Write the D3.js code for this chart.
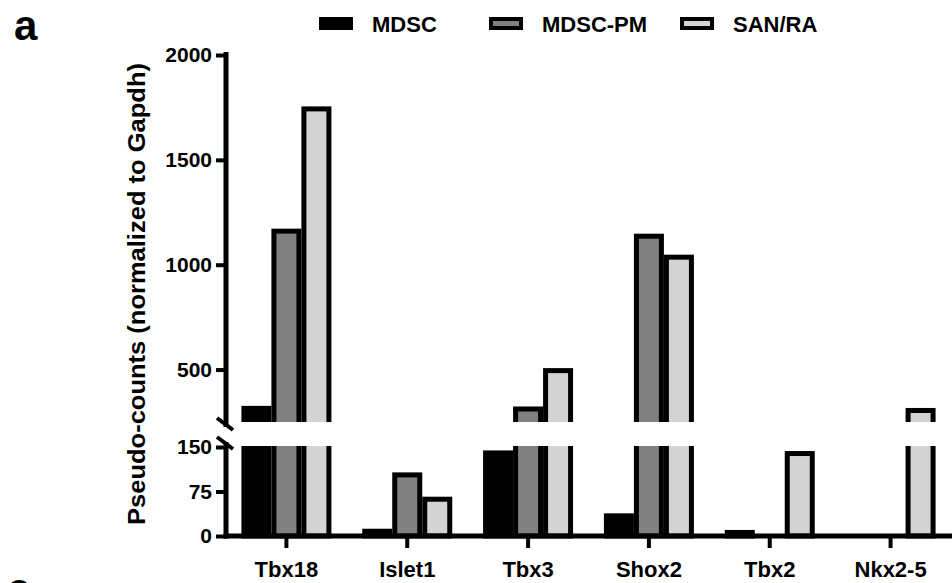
<!DOCTYPE html>
<html>
<head>
<meta charset="utf-8">
<script src="https://cdn.jsdelivr.net/npm/d3@7"></script>
<style>
    body { margin: 0; background: #fff; }
    #chart text { font-family: Arial, "Liberation Sans", sans-serif; font-weight: bold; fill: #000; }
</style>
</head>
<body>
<div id="chart"></div>
<script>
const genes = ['Tbx18', 'Islet1', 'Tbx3', 'Shox2', 'Tbx2', 'Nkx2-5'];
const seriesNames = ['MDSC', 'MDSC-PM', 'SAN/RA'];
const mdsc = [315, 8, 140, 34, 6, 0];
const mdscPm = [1160, 103, 312, 1136, 0, 0];
const sanRa = [1743, 62, 495, 1036, 139, 305];
const upperTicks = [500, 1000, 1500, 2000];
const lowerTicks = [0, 75, 150];
const colors = ['#000000', '#808080', '#d3d3d3'];

document.addEventListener('DOMContentLoaded', function() {
    const width = 952;
    const height = 583;
    const axisX = 226;

    const svg = d3.select('#chart')
        .append('svg')
        .attr('width', width)
        .attr('height', height);

    const x0 = d3.scaleBand().domain(genes).range([226, 951]);
    const x1 = d3.scaleBand().domain(seriesNames).range([-45, 45]);
    const yUp = d3.scaleLinear().domain([250, 2000]).range([422, 55]);
    const yLow = d3.scaleLinear().domain([0, 150]).range([536, 447]);

    const rows = [];
    genes.forEach((g, i) => {
        [mdsc[i], mdscPm[i], sanRa[i]].forEach((v, j) => {
            rows.push({ gene: g, series: seriesNames[j], value: v, color: colors[j] });
        });
    });

    const defs = svg.append('defs');
    defs.append('clipPath').attr('id', 'clip-up')
        .append('rect')
        .attr('x', 0).attr('y', 0)
        .attr('width', width).attr('height', yUp(250));
    defs.append('clipPath').attr('id', 'clip-low')
        .append('rect')
        .attr('x', 0).attr('y', yLow(150) - 1)
        .attr('width', width).attr('height', height);

    const barX = d => x0(d.gene) + x0.bandwidth() / 2 + x1(d.series) + 2.5;
    const barW = x1.bandwidth() - 5;

    // lower segment (0 - 150)
    svg.append('g')
        .attr('clip-path', 'url(#clip-low)')
        .selectAll('rect')
        .data(rows.filter(d => d.value > 0))
        .enter()
        .append('rect')
        .attr('x', barX)
        .attr('y', d => yLow(Math.min(d.value, 400)))
        .attr('width', barW)
        .attr('height', d => yLow(0) - yLow(Math.min(d.value, 400)))
        .attr('fill', d => d.color)
        .attr('stroke', '#000')
        .attr('stroke-width', 5);

    // upper segment (250 - 2000)
    svg.append('g')
        .attr('clip-path', 'url(#clip-up)')
        .selectAll('rect')
        .data(rows.filter(d => d.value > 250))
        .enter()
        .append('rect')
        .attr('x', barX)
        .attr('y', d => yUp(d.value))
        .attr('width', barW)
        .attr('height', d => yUp(250) + 10 - yUp(d.value))
        .attr('fill', d => d.color)
        .attr('stroke', '#000')
        .attr('stroke-width', 5);

    // y axes
    const styleAxis = g => {
        g.select('.domain').remove();
        g.selectAll('line').attr('stroke', '#000').attr('stroke-width', 4);
        g.selectAll('text').attr('font-size', 21);
    };

    svg.append('g')
        .attr('transform', `translate(${axisX}, 0)`)
        .call(d3.axisLeft(yUp).tickValues(upperTicks).tickFormat(d3.format('d')).tickSize(10).tickPadding(4))
        .call(styleAxis);

    svg.append('g')
        .attr('transform', `translate(${axisX}, 0)`)
        .call(d3.axisLeft(yLow).tickValues(lowerTicks).tickFormat(d3.format('d')).tickSize(10).tickPadding(4))
        .call(styleAxis);

    svg.append('line')
        .attr('x1', axisX).attr('x2', axisX)
        .attr('y1', yUp(2000) - 3).attr('y2', yUp(250) + 5)
        .attr('stroke', '#000').attr('stroke-width', 5);

    svg.append('line')
        .attr('x1', axisX).attr('x2', axisX)
        .attr('y1', yLow(150) - 5).attr('y2', yLow(0) + 2.5)
        .attr('stroke', '#000').attr('stroke-width', 5);

    // break marks
    [yUp(250) - 4, yLow(150) - 10].forEach(y => {
        svg.append('line')
            .attr('x1', axisX - 9).attr('y1', y)
            .attr('x2', axisX + 7).attr('y2', y + 12)
            .attr('stroke', '#000').attr('stroke-width', 4);
    });

    // x axis
    svg.append('g')
        .attr('transform', `translate(0, ${yLow(0)})`)
        .call(d3.axisBottom(x0).tickSize(12).tickPadding(13))
        .call(g => g.select('.domain').remove())
        .call(g => g.selectAll('line').attr('stroke', '#000').attr('stroke-width', 4))
        .call(g => g.selectAll('text').attr('font-size', 22));

    svg.append('line')
        .attr('x1', axisX - 2.5).attr('x2', width)
        .attr('y1', yLow(0)).attr('y2', yLow(0))
        .attr('stroke', '#000').attr('stroke-width', 5);

    // y title
    svg.append('text')
        .attr('transform', 'translate(145, 294) rotate(-90)')
        .attr('text-anchor', 'middle')
        .attr('font-size', 24)
        .attr('textLength', 462)
        .attr('lengthAdjust', 'spacingAndGlyphs')
        .text('Pseudo-counts (normalized to Gapdh)');

    // legend
    const legendX = [319, 489, 680];
    const legend = svg.append('g')
        .selectAll('g')
        .data(seriesNames)
        .enter()
        .append('g')
        .attr('transform', (d, i) => `translate(${legendX[i]}, 17)`);

    legend.append('rect')
        .attr('x', 2).attr('y', 2)
        .attr('width', 30).attr('height', 9)
        .attr('fill', (d, i) => colors[i])
        .attr('stroke', '#000')
        .attr('stroke-width', 4);

    legend.append('text')
        .attr('x', 53)
        .attr('y', 15)
        .attr('font-size', 22)
        .text(d => d);

    // panel letters
    svg.append('text')
        .attr('x', 14).attr('y', 40)
        .attr('font-size', 42)
        .text('a');

    svg.append('text')
        .attr('x', 7).attr('y', 603)
        .attr('font-size', 42)
        .text('c');
});
</script>
</body>
</html>
